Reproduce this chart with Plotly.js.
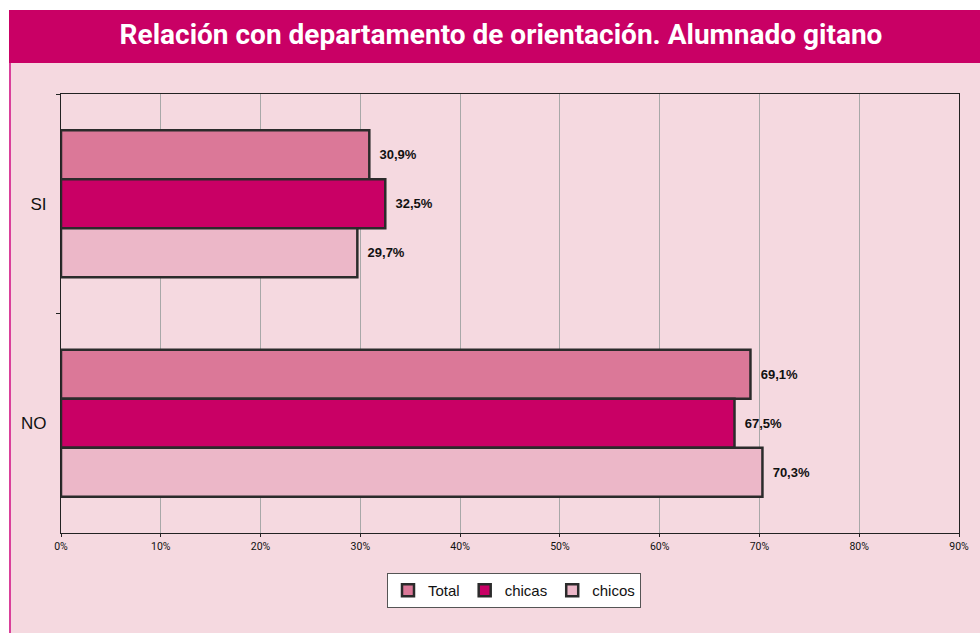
<!DOCTYPE html>
<html>
<head>
<meta charset="utf-8">
<script src="https://cdn.plot.ly/plotly-3.0.1.min.js"></script>
<style>
  html, body { margin: 0; padding: 0; background: #ffffff; }
  #chart { width: 980px; height: 633px; }
</style>
</head>
<body>
<div id="chart"></div>
<script>
// categories and series (percent)
const categorias = ['SI', 'NO'];
const total = [30.9, 69.1];
const chicas = [32.5, 67.5];
const chicos = [29.7, 70.3];

const W = 980, H = 633;
const M = { l: 61, r: 21, t: 94, b: 100 };
const plotW = W - M.l - M.r;
const plotH = H - M.t - M.b;
// pixel -> paper helpers for the frame shapes
const px = x => (x - M.l) / plotW;
const py = y => (H - M.b - y) / plotH;

function etiqueta(v) {
  return '  ' + v.toFixed(1).replace('.', ',') + '%';
}

function serie(nombre, valores, color) {
  return {
    type: 'bar',
    orientation: 'h',
    name: nombre,
    y: categorias,
    x: valores,
    text: valores.map(etiqueta),
    textposition: 'outside',
    cliponaxis: false,
    textfont: { family: 'Liberation Sans, Arial, sans-serif', size: 13, color: '#111', weight: 'bold' },
    marker: { color: color, line: { color: '#2b2b2b', width: 2.5 } },
    hoverinfo: 'skip'
  };
}

const data = [
  serie('Total', total, '#DB7898'),
  serie('chicas', chicas, '#C90065'),
  serie('chicos', chicos, '#ECB7C8')
];

const layout = {
  width: W,
  height: H,
  margin: M,
  paper_bgcolor: '#F5D9E0',
  plot_bgcolor: '#F5D9E0',
  barmode: 'group',
  bargap: 0.33,
  bargroupgap: 0,
  showlegend: true,
  title: {
    text: 'Relación con departamento de orientación. Alumnado gitano',
    font: { family: 'Roboto, sans-serif', size: 28, color: '#ffffff', weight: 'bold' },
    x: 501 / W,
    xanchor: 'center',
    xref: 'container',
    y: 1 - 34 / H,
    yanchor: 'middle',
    yref: 'container'
  },
  xaxis: {
    range: [0, 90],
    dtick: 10,
    ticksuffix: '%',
    showgrid: true,
    gridcolor: '#A8A8A8',
    gridwidth: 1,
    showline: true,
    linecolor: '#222',
    linewidth: 1,
    mirror: true,
    ticks: 'outside',
    ticklen: 3,
    tickcolor: '#222',
    tickfont: { family: 'Roboto, sans-serif', size: 10.5, color: '#111' },
    zeroline: false,
    fixedrange: true
  },
  yaxis: {
    type: 'category',
    autorange: 'reversed',
    showgrid: false,
    showline: true,
    linecolor: '#222',
    linewidth: 1,
    mirror: true,
    ticks: 'outside',
    tickson: 'boundaries',
    ticklen: 4,
    tickcolor: '#222',
    ticklabelstandoff: 10,
    tickfont: { family: 'Liberation Sans, Arial, sans-serif', size: 17, color: '#111' },
    fixedrange: true
  },
  legend: {
    orientation: 'h',
    x: px(514),
    xanchor: 'center',
    y: py(573),
    yanchor: 'top',
    bgcolor: '#ffffff',
    bordercolor: '#555',
    borderwidth: 1,
    itemwidth: 30,
    font: { family: 'Liberation Sans, Arial, sans-serif', size: 15, color: '#111' }
  },
  shapes: [
    // white margins left and top
    { type: 'rect', xref: 'paper', yref: 'paper', x0: px(0), x1: px(9), y0: py(H), y1: py(0),
      fillcolor: '#ffffff', line: { width: 0 }, layer: 'below' },
    { type: 'rect', xref: 'paper', yref: 'paper', x0: px(0), x1: px(W), y0: py(10), y1: py(0),
      fillcolor: '#ffffff', line: { width: 0 }, layer: 'below' },
    // header band
    { type: 'rect', xref: 'paper', yref: 'paper', x0: px(9), x1: px(W), y0: py(63), y1: py(10),
      fillcolor: '#C90065', line: { width: 0 }, layer: 'below' },
    // left border line
    { type: 'line', xref: 'paper', yref: 'paper', x0: px(10), x1: px(10), y0: py(H), y1: py(63),
      line: { color: '#D9409A', width: 2 }, layer: 'below' }
  ]
};

Plotly.newPlot('chart', data, layout, { displayModeBar: false, staticPlot: true });
</script>
</body>
</html>
